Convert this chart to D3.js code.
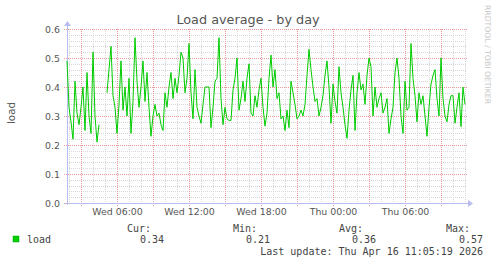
<!DOCTYPE html>
<html>
<head>
<meta charset="utf-8">
<script src="https://cdn.jsdelivr.net/npm/d3@7"></script>
<style>
  body { margin: 0; background: #fff; }
  svg { display: block; }
</style>
</head>
<body>
<svg id="chart" width="497" height="264"></svg>
<script>
// --- data ---
const title      = 'Load average - by day'
const yLabel     = 'load'
const yTicks     = [0, 0.1, 0.2, 0.3, 0.4, 0.5, 0.6]
const xTicks     = ['2026-04-15T06:00Z', '2026-04-15T12:00Z', '2026-04-15T18:00Z', '2026-04-16T00:00Z', '2026-04-16T06:00Z']
const seriesName = 'load'
const startTime  = '2026-04-15T01:50Z'   // first sample
const stepMin    = 10                    // minutes between samples
const loadValues = [
  0.49, 0.33, 0.28, 0.22, 0.42, 0.31, 0.27, 0.33, 0.40, 0.25,
  0.45, 0.30, 0.24, 0.52, 0.30, 0.21, 0.27, null, null, null,
  0.38, 0.46, 0.54, 0.37, 0.33, 0.24, 0.34, 0.49, 0.32, 0.40,
  0.30, 0.43, 0.24, 0.35, 0.57, 0.42, 0.33, 0.40, 0.49, 0.35,
  0.45, 0.33, 0.23, 0.30, 0.34, 0.30, 0.31, 0.27, 0.25, 0.38,
  0.33, 0.40, 0.45, 0.36, 0.43, 0.38, 0.44, 0.52, 0.50, 0.38,
  0.43, 0.55, 0.38, 0.29, 0.46, 0.33, 0.30, 0.275, 0.34, 0.40,
  0.40, 0.40, 0.26, 0.33, 0.42, 0.43, 0.57, 0.36, 0.27, 0.33,
  0.29, 0.285, 0.285, 0.39, 0.43, 0.50, 0.32, 0.36, 0.42, 0.35,
  0.43, 0.48, 0.31, 0.30, 0.37, 0.33, 0.39, 0.43, 0.33, 0.265,
  0.31, 0.43, 0.51, 0.40, 0.46, 0.36, 0.38, 0.29, 0.30, 0.25,
  0.32, 0.26, 0.42, 0.38, 0.34, 0.29, 0.30, 0.32, 0.30, 0.34,
  0.44, 0.53, 0.46, 0.40, 0.35, 0.36, 0.30, 0.33, 0.37, 0.44,
  0.49, 0.40, 0.275, 0.41, 0.35, 0.31, 0.47, 0.38, 0.33, 0.27,
  0.223, 0.32, 0.39, 0.44, 0.25, 0.38, 0.45, 0.39, 0.41, 0.34,
  0.44, 0.50, 0.47, 0.30, 0.40, 0.33, 0.36, 0.38, 0.31, 0.33,
  0.36, 0.24, 0.29, 0.33, 0.45, 0.50, 0.43, 0.30, 0.24, 0.42,
  0.32, 0.33, 0.55, 0.43, 0.37, 0.28, 0.38, 0.34, 0.37, 0.30,
  0.23, 0.33, 0.41, 0.44, 0.46, 0.36, 0.30, 0.50, 0.36, 0.30,
  0.28, 0.34, 0.37, 0.37, 0.275, 0.33, 0.38, 0.263, 0.40, 0.34
]
const legendHeads = ['Cur:', 'Min:', 'Avg:', 'Max:']
const legendVals  = ['0.34', '0.21', '0.36', '0.57']
const lastUpdate  = 'Last update: Thu Apr 16 11:05:19 2026'

// --- layout ---
const svg = d3.select('#chart')
const sans = "'DejaVu Sans', sans-serif"
const mono = "'DejaVu Sans Mono', monospace"
const plotL = 67, plotR = 467, plotT = 29, plotB = 203

const t0 = new Date(startTime)
const points = loadValues.map((v, i) => ({ t: new Date(+t0 + i * stepMin * 60000), v }))

const x = d3.scaleUtc()
  .domain([new Date('2026-04-15T01:50Z'), new Date('2026-04-16T11:10Z')])
  .range([plotL, plotR])
const y = d3.scaleLinear().domain([0, 0.6]).range([plotB, plotT])

svg.append('rect').attr('width', 497).attr('height', 264).attr('fill', '#fff')

const grid = svg.append('g').attr('shape-rendering', 'crispEdges')

// minor grid: every 0.02 / every hour
d3.range(1, 30).filter(k => k % 5 !== 0).forEach(k => {
  const py = Math.round(y(k * 0.02)) + 0.5
  grid.append('line')
    .attr('x1', plotL).attr('x2', plotR).attr('y1', py).attr('y2', py)
    .attr('stroke', '#d6d6d6').attr('stroke-dasharray', '1,1')
})
x.ticks(d3.utcHour.every(1)).filter(d => d.getUTCHours() % 3 !== 0).forEach(d => {
  const px = Math.round(x(d)) + 0.5
  grid.append('line')
    .attr('x1', px).attr('x2', px).attr('y1', plotT).attr('y2', plotB + 2)
    .attr('stroke', '#d6d6d6').attr('stroke-dasharray', '1,1')
})

// major grid: every 0.1 / every 3 hours
yTicks.forEach(v => {
  const py = Math.round(y(v)) + 0.5
  grid.append('line')
    .attr('x1', plotL - 3).attr('x2', plotR).attr('y1', py).attr('y2', py)
    .attr('stroke', '#ee9a9a').attr('stroke-dasharray', '1,1')
})
x.ticks(d3.utcHour.every(3)).forEach(d => {
  const px = Math.round(x(d)) + 0.5
  grid.append('line')
    .attr('x1', px).attr('x2', px).attr('y1', plotT).attr('y2', plotB + 3)
    .attr('stroke', '#ee9a9a').attr('stroke-dasharray', '1,1')
})

// axes with arrow heads
const axisCol = '#b8bcf0'
svg.append('line').attr('x1', plotL - 2).attr('x2', plotR + 2)
  .attr('y1', plotB + 0.5).attr('y2', plotB + 0.5)
  .attr('stroke', axisCol).attr('shape-rendering', 'crispEdges')
svg.append('line').attr('x1', plotL + 0.5).attr('x2', plotL + 0.5)
  .attr('y1', plotB + 2).attr('y2', plotT - 4)
  .attr('stroke', axisCol).attr('shape-rendering', 'crispEdges')
svg.append('path').attr('d', `M${plotR + 1},${plotB - 3} L${plotR + 6},${plotB + 0.5} L${plotR + 1},${plotB + 4} Z`)
  .attr('fill', axisCol)
svg.append('path').attr('d', `M${plotL - 3},${plotT - 3} L${plotL + 0.5},${plotT - 8} L${plotL + 4},${plotT - 3} Z`)
  .attr('fill', axisCol)

// tick labels via d3 axes
const yAxis = svg.append('g').attr('transform', `translate(${plotL - 6},0)`)
  .call(d3.axisLeft(y).tickValues(yTicks).tickFormat(d3.format('.1f')).tickSize(0).tickPadding(1))
const xAxis = svg.append('g').attr('transform', `translate(0,${plotB})`)
  .call(d3.axisBottom(x).tickValues(xTicks.map(s => new Date(s)))
    .tickFormat(d3.utcFormat('%a %H:%M')).tickSize(0).tickPadding(5))
;[yAxis, xAxis].forEach(a => {
  a.select('.domain').remove()
  a.selectAll('text').attr('font-family', sans).attr('font-size', '9.4px').attr('fill', '#555')
})
yAxis.selectAll('text').attr('dy', '0.36em')

// series line
const line = d3.line()
  .defined(d => d.v != null)
  .x(d => x(d.t))
  .y(d => y(d.v))
svg.append('path').datum(points)
  .attr('d', line)
  .attr('fill', 'none')
  .attr('stroke', '#00cc00')
  .attr('stroke-width', 1)
  .attr('stroke-linejoin', 'round')

// title and labels
svg.append('text').attr('x', 248).attr('y', 24).attr('text-anchor', 'middle')
  .attr('font-family', sans).attr('font-size', '12.8px').attr('fill', '#555').text(title)
svg.append('text').attr('transform', 'translate(15,113) rotate(-90)').attr('text-anchor', 'middle')
  .attr('font-family', sans).attr('font-size', '10.3px').attr('fill', '#555').text(yLabel)
svg.append('text').attr('transform', 'translate(485,5) rotate(90)')
  .attr('font-family', sans).attr('font-size', '7.7px').attr('fill', '#c8c8c8')
  .text('RRDTOOL / TOBI OETIKER')

// legend
const legend = svg.append('g').attr('font-family', mono).attr('font-size', '10px').attr('fill', '#444')
legend.append('rect').attr('x', 13).attr('y', 236).attr('width', 6).attr('height', 6)
  .attr('fill', '#00cc00').attr('stroke', '#00aa00').attr('stroke-width', 0.5)
legend.append('text').attr('x', 27).attr('y', 243).text(seriesName)
const headX = [151, 257, 363, 470]
legendHeads.forEach((h, i) => {
  legend.append('text').attr('x', headX[i]).attr('y', 231.5).attr('text-anchor', 'end').text(h)
  legend.append('text').attr('x', headX[i] + 13).attr('y', 243).attr('text-anchor', 'end').text(legendVals[i])
})
legend.append('text').attr('x', 483).attr('y', 254.5).attr('text-anchor', 'end').text(lastUpdate)
</script>
</body>
</html>
